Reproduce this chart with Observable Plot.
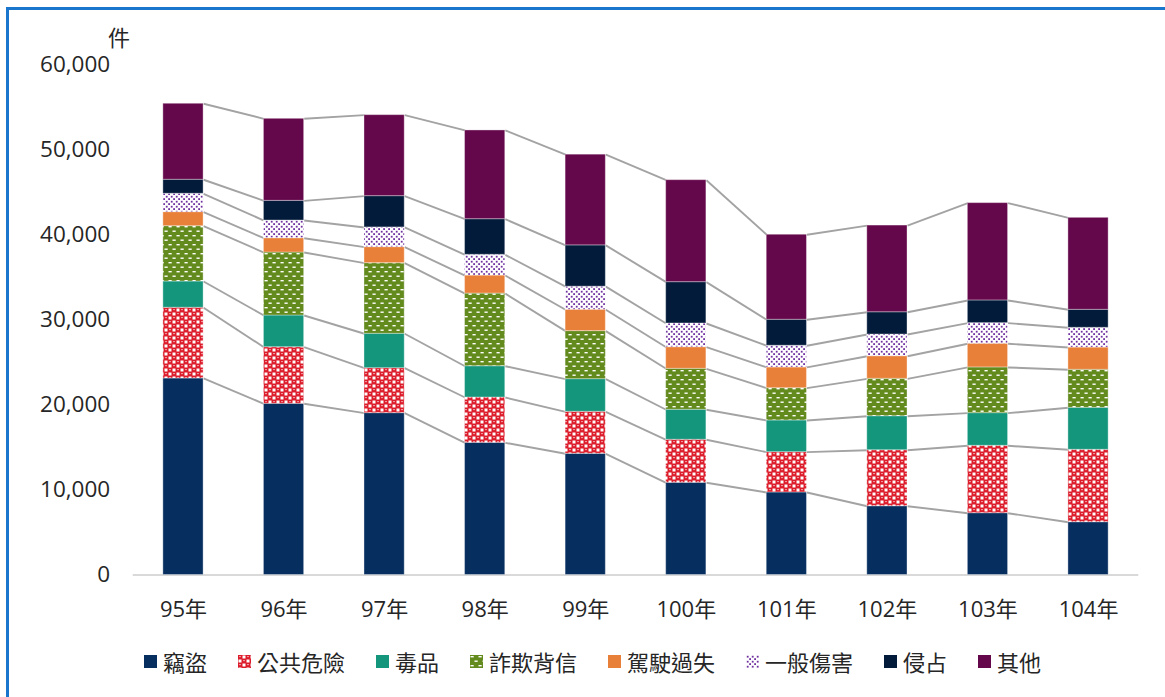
<!DOCTYPE html>
<html><head><meta charset="utf-8">
<script src="https://cdn.jsdelivr.net/npm/d3@7"></script>
<script src="https://cdn.jsdelivr.net/npm/@observablehq/plot@0.6"></script>
<style>
html,body{margin:0;padding:0;background:#fff;overflow:hidden;width:1165px;height:697px;}
#frame{position:absolute;left:6px;top:7px;width:1300px;height:800px;border-top:3px solid #1a75cc;border-left:3px solid #1a75cc;box-sizing:border-box;}
#chart{position:absolute;left:0;top:0;}
#unit{position:absolute;left:108px;top:25px;font-size:22px;font-family:"Noto Sans CJK TC";color:#262626;line-height:1;}
#legend{position:absolute;left:144px;top:650px;display:flex;align-items:center;font-family:"Noto Sans CJK TC";font-size:22px;color:#262626;line-height:1;}
.item{display:flex;align-items:center;margin-right:31px;}
.item svg{margin-right:6px;}
</style></head>
<body>
<div id="frame"></div>
<div id="chart"></div>
<div id="unit">件</div>
<div id="legend"></div>
<script>
const years = ["95年","96年","97年","98年","99年","100年","101年","102年","103年","104年"];
const seriesNames = ["竊盜","公共危險","毒品","詐欺背信","駕駛過失","一般傷害","侵占","其他"];
const theft        = [23120,20140,19040,15550,14260,10850, 9710, 8090, 7270, 6210];
const publicDanger = [ 8320, 6660, 5290, 5330, 4940, 5060, 4740, 6590, 7930, 8520];
const drugs        = [ 3090, 3730, 4050, 3680, 3840, 3530, 3730, 4000, 3840, 4940];
const fraud        = [ 6510, 7410, 8310, 8550, 5650, 4820, 3800, 4400, 5380, 4470];
const negligence   = [ 1650, 1680, 1880, 2120, 2520, 2540, 2440, 2660, 2790, 2620];
const injury       = [ 2160, 2080, 2320, 2440, 2710, 2790, 2550, 2550, 2420, 2320];
const embezzlement = [ 1650, 2320, 3680, 4190, 4860, 4860, 3060, 2620, 2670, 2120];
const others       = [ 8940, 9650, 9530,10440,10670,12000,10000,10200,11450,10820];
const yTicks = [0,10000,20000,30000,40000,50000,60000];

const seriesValues = [theft,publicDanger,drugs,fraud,negligence,injury,embezzlement,others];
const fills = ["#062e5f","url(#pRed)","#14967c","url(#pGreen)","#e9803a","url(#pPurple)","#031b3a","#65074b"];

// stacked rows
const rows = [];
const tops = seriesNames.map(() => []);
years.forEach((yr, i) => {
  let acc = 0;
  seriesNames.forEach((s, k) => {
    const v = seriesValues[k][i];
    rows.push({i, series: s, y1: acc, y2: acc + v});
    acc += v;
    tops[k].push(acc);
  });
});
const half = 0.2;
const links = [];
seriesNames.forEach((s, k) => {
  for (let i = 0; i < years.length - 1; i++) {
    links.push({x1: i + half, x2: i + 1 - half, y1: tops[k][i], y2: tops[k][i + 1]});
  }
});

const chart = Plot.plot({
  width: 1165, height: 620,
  marginLeft: 132.7, marginRight: 26.7, marginTop: 64.5, marginBottom: 45.5,
  x: {domain: [-0.5, 9.5], axis: null},
  y: {domain: [0, 60000], axis: null},
  color: {domain: seriesNames, range: fills},
  style: {fontFamily: '"Open Sans","Noto Sans CJK TC",sans-serif', fontSize: "22px", color: "#262626", background: "transparent", overflow: "visible"},
  marks: [
    Plot.ruleY([0], {stroke: "#d9d9d9", strokeWidth: 2}),
    Plot.link(links, {x1: "x1", x2: "x2", y1: "y1", y2: "y2", stroke: "#a3a3a3", strokeWidth: 1.9}),
    Plot.rect(rows, {x1: d => d.i - half, x2: d => d.i + half, y1: "y1", y2: "y2", fill: "series", stroke: "#ffffff", strokeOpacity: 0.35, strokeWidth: 1}),
    Plot.axisY({ticks: yTicks, tickSize: 0, tickPadding: 23, tickFormat: d3.format(","), fontSize: 22.5}),
    Plot.axisX({ticks: d3.range(years.length), tickSize: 0, tickPadding: 26, tickFormat: i => years[i], fontSize: 22})
  ]
});
document.getElementById("chart").appendChild(chart);

function addPatterns(svgSel) {
  const defs = svgSel.insert("defs", ":first-child");
  const r = defs.append("pattern").attr("id", "pRed").attr("patternUnits", "userSpaceOnUse").attr("width", 8).attr("height", 8);
  r.append("rect").attr("width", 8).attr("height", 8).attr("fill", "#dc1c2b");
  r.append("rect").attr("x", 4.5).attr("y", 0.5).attr("width", 3).attr("height", 3).attr("fill", "#fff");
  r.append("rect").attr("x", 0.5).attr("y", 4.5).attr("width", 3).attr("height", 3).attr("fill", "#fff");
  r.append("rect").attr("x", 1).attr("y", 1.3).attr("width", 2).attr("height", 0.8).attr("fill", "#f6c5c9");
  r.append("rect").attr("x", 5).attr("y", 5.3).attr("width", 2).attr("height", 0.8).attr("fill", "#f6c5c9");
  const g = defs.append("pattern").attr("id", "pGreen").attr("patternUnits", "userSpaceOnUse").attr("width", 8).attr("height", 9);
  g.append("rect").attr("width", 8).attr("height", 9).attr("fill", "#628a1d");
  g.append("rect").attr("x", 0.5).attr("y", 1).attr("width", 3.2).attr("height", 1.4).attr("fill", "#fff");
  g.append("rect").attr("x", 4.5).attr("y", 5.5).attr("width", 3.2).attr("height", 1.4).attr("fill", "#fff");
  const p = defs.append("pattern").attr("id", "pPurple").attr("patternUnits", "userSpaceOnUse").attr("width", 5).attr("height", 5);
  p.append("rect").attr("width", 5).attr("height", 5).attr("fill", "#fff");
  p.append("rect").attr("x", 0.8).attr("y", 0.8).attr("width", 1.8).attr("height", 1.8).attr("fill", "#7030a0");
  p.append("rect").attr("x", 3.2).attr("y", 3.2).attr("width", 1.8).attr("height", 1.8).attr("fill", "#7030a0");
}
addPatterns(d3.select(chart));

const legend = d3.select("#legend");
seriesNames.forEach((s, k) => {
  const it = legend.append("div").attr("class", "item");
  const sw = it.append("svg").attr("width", 13).attr("height", 13);
  sw.append("rect").attr("width", 13).attr("height", 13).attr("fill", fills[k]);
  it.append("span").text(s);
});
</script>
</body></html>
